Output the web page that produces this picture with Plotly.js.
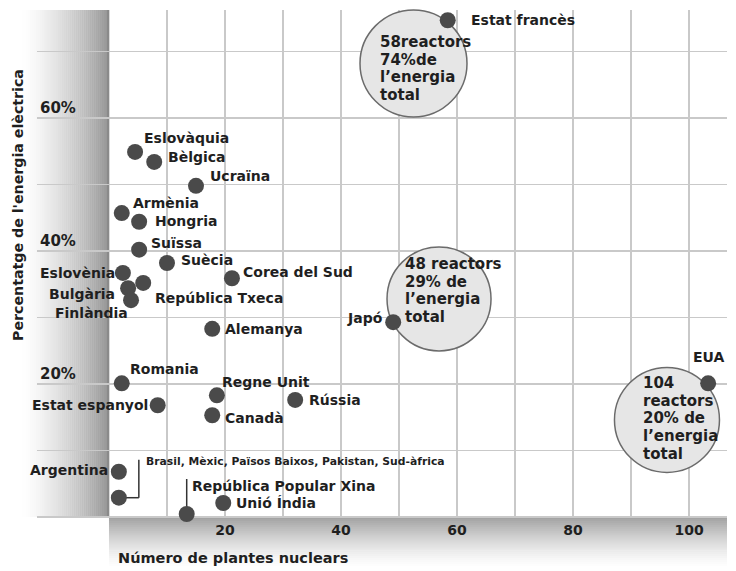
<!DOCTYPE html>
<html><head><meta charset="utf-8">
<script src="https://cdn.plot.ly/plotly-3.0.1.min.js"></script>
<style>html,body{margin:0;padding:0;background:#fff}#chart{width:736px;height:571px}</style>
</head><body><div id="chart"></div>
<script>
// ---- data ----
const countries = ['Estat francès','Eslovàquia','Bèlgica','Ucraïna','Armènia','Hongria','Suïssa','Suècia','Eslovènia','Corea del Sud','Bulgària','Finlàndia','República Txeca','Alemanya','Japó','Romania','Regne Unit','Rússia','Estat espanyol','Canadà','Argentina','Brasil, Mèxic, Països Baixos, Pakistan, Sud-àfrica','República Popular Xina','Unió Índia','EUA'];
const plants = [58.4, 4.5, 7.8, 15.0, 2.2, 5.2, 5.2, 10.0, 2.4, 21.2, 3.3, 3.8, 5.9, 17.8, 49.0, 2.2, 18.6, 32.1, 8.4, 17.8, 1.7, 1.7, 13.4, 19.7, 103.3];
const share = [74.7, 54.9, 53.4, 49.8, 45.7, 44.4, 40.2, 38.2, 36.7, 35.9, 34.4, 32.6, 35.2, 28.3, 29.3, 20.1, 18.3, 17.6, 16.8, 15.3, 6.8, 2.9, 0.45, 2.1, 20.1];
const bubbleText = [['58reactors','74%de','l’energia','total'],['48 reactors','29% de','l’energia','total'],['104','reactors','20% de','l’energia','total']];
const bubbleX = [52.5, 56.9, 96.2];
const bubbleY = [68.2, 32.8, 14.6];
const xTicks = [20, 40, 60, 80, 100];
const xMinor = [10, 30, 50, 70, 90];
const yTicks = [20, 40, 60];
const yTickText = ['20%', '40%', '60%'];
const yMinor = [10, 30, 50, 70];
const xTitle = 'Número de plantes nuclears';
const yTitle = "Percentatge de l'energia elèctrica";

// ---- layout helpers (placement only) ----
const W = 736, H = 571, M = {l:37, r:9, t:10, b:54};
const XR = [-12.41, 106.55], YR = [0, 76.24];
const pw = W - M.l - M.r, ph = H - M.t - M.b;
const pxToPaperX = p => (p - M.l) / pw;
const pxToPaperY = p => (H - M.b - p) / ph;
const dataToPaperX = v => (v - XR[0]) / (XR[1] - XR[0]);

const FONT = 'DejaVu Sans';
const INK = '#1f1f1f';

// label placement: [xanchor, xshift, yshift, size]
const labelPos = [
 ['left',21,0,14],['left',7,14,14],['left',12,5,14],['left',12,10,14],['left',9,10,14],
 ['left',14,1,14],['left',10,7,14],['left',12,3,14],['right',-6,0,14],['left',9,6,14],
 ['right',-11,-6,14],['right',-1,-13,14],['left',10,-15,14],['left',11,0,14],['right',-8,4,14],
 ['left',6,14,14],['left',3,13,14],['left',12,0,14],['right',-8,0,14],['left',11,-3,14],
 ['right',-9,2,14],['left',25,36,10.8],['left',3,28,14],['left',11,0,14],['right',19,26,14]
];
const bubbleSizes = [107, 104, 105];
const bubbleTextPos = [[-36,21.5],[-36,35],[-26,37]];

const shapes = [];
// left gradient band
const gx0 = 20, gx1 = 109, nL = 45;
for (let i = 0; i < nL; i++) {
  const a = gx0 + (gx1 - gx0) * i / nL, b = gx0 + (gx1 - gx0) * (i + 1) / nL;
  const t = (i + 0.5) / nL;
  const g = Math.round(255 - 108 * Math.pow(t, 1.5));
  shapes.push({type:'rect', layer:'below', xref:'paper', yref:'paper',
    x0: pxToPaperX(a), x1: pxToPaperX(b) + 0.0005, y0: 0, y1: 1,
    line:{width:0}, fillcolor:`rgb(${g},${g},${g})`});
}
shapes.push({type:'rect', layer:'below', xref:'paper', yref:'paper',
  x0: pxToPaperX(107), x1: dataToPaperX(0), y0: 0, y1: 1, line:{width:0}, fillcolor:'#8a8a8a'});
// bottom gradient band
const gy0 = 517, gy1 = 568, nB = 26;
for (let i = 0; i < nB; i++) {
  const a = gy0 + (gy1 - gy0) * i / nB, b = gy0 + (gy1 - gy0) * (i + 1) / nB;
  const t = (i + 0.5) / nB;
  const g = Math.round(255 - 95 * Math.pow(1 - t, 1.4));
  shapes.push({type:'rect', layer:'below', xref:'paper', yref:'paper',
    x0: dataToPaperX(0), x1: 1, y0: pxToPaperY(b) - 0.001, y1: pxToPaperY(a),
    line:{width:0}, fillcolor:`rgb(${g},${g},${g})`});
}
// leader lines
const iBr = 21, iXi = 22;
const lead = {color:'#333333', width:1.5};
shapes.push({type:'line', layer:'between', xref:'x', yref:'y', xsizemode:'pixel', ysizemode:'pixel',
  xanchor: plants[iBr], yanchor: share[iBr], x0:0, x1:20, y0:0, y1:0, line:lead});
shapes.push({type:'line', layer:'between', xref:'x', yref:'y', xsizemode:'pixel', ysizemode:'pixel',
  xanchor: plants[iBr], yanchor: share[iBr], x0:20, x1:20, y0:0, y1:38, line:lead});
shapes.push({type:'line', layer:'between', xref:'x', yref:'y', xsizemode:'pixel', ysizemode:'pixel',
  xanchor: plants[iXi], yanchor: share[iXi], x0:0, x1:0, y0:0, y1:35, line:lead});

const annotations = [];
countries.forEach((c, i) => {
  const p = labelPos[i];
  annotations.push({x: plants[i], y: share[i], xref:'x', yref:'y', text: c, showarrow:false,
    xanchor: p[0], yanchor:'middle', xshift: p[1], yshift: p[2],
    font:{family: FONT, size: p[3], color: INK, weight:'bold'}});
});
bubbleText.forEach((lines, b) => {
  lines.forEach((ln, j) => {
    annotations.push({x: bubbleX[b], y: bubbleY[b], xref:'x', yref:'y', text: ln, showarrow:false,
      xanchor:'left', yanchor:'middle', xshift: bubbleTextPos[b][0], yshift: bubbleTextPos[b][1] - j * 17.7,
      font:{family: FONT, size: 15, color: INK, weight:'bold'}});
  });
});
annotations.push({xref:'paper', yref:'paper', x: pxToPaperX(116), y: pxToPaperY(558), text: xTitle,
  showarrow:false, xanchor:'left', yanchor:'middle', font:{family: FONT, size:14.5, color: INK, weight:'bold'}});
annotations.push({xref:'paper', yref:'paper', x: pxToPaperX(18), y: pxToPaperY(205), text: yTitle,
  showarrow:false, textangle:-90, xanchor:'center', yanchor:'middle', font:{family: FONT, size:14.2, color: INK, weight:'bold'}});

const traces = [
  {type:'scatter', mode:'markers', x: bubbleX, y: bubbleY, cliponaxis:false, hoverinfo:'skip',
   marker:{size: bubbleSizes, color:'#e6e6e6', line:{color:'#6b6b6b', width:1.5}, opacity:1}},
  {type:'scatter', mode:'markers', x: plants, y: share, text: countries, cliponaxis:false,
   marker:{size:16, color:'#4a4a4a', line:{width:0}}}
];

const grid = '#c9c9c9';
const layout = {
  width: W, height: H, margin: M, paper_bgcolor:'#ffffff', plot_bgcolor:'rgba(0,0,0,0)',
  showlegend:false, font:{family: FONT, color: INK},
  xaxis:{range: XR, tickmode:'array', tickvals: xTicks, ticktext: xTicks.map(String),
    showgrid:true, gridcolor: grid, gridwidth:1.5, zeroline:false, showline:false, ticks:'',
    ticklabelstandoff: 3,
    minor:{tickmode:'array', tickvals: xMinor, showgrid:true, gridcolor: grid, gridwidth:1.5, ticks:''},
    tickfont:{family: FONT, size:14, color: INK, weight:'bold'}, fixedrange:true},
  yaxis:{range: YR, tickmode:'array', tickvals: yTicks, ticktext: yTickText, ticklabelposition:'inside top',
    showgrid:true, gridcolor: grid, gridwidth:1.5, zeroline:true, zerolinecolor: grid, zerolinewidth:1.5,
    showline:false, ticks:'',
    minor:{tickmode:'array', tickvals: yMinor, showgrid:true, gridcolor: grid, gridwidth:1.5, ticks:''},
    tickfont:{family: FONT, size:15, color: INK, weight:'bold'}, fixedrange:true},
  shapes: shapes, annotations: annotations
};
Plotly.newPlot('chart', traces, layout, {displayModeBar:false, staticPlot:true});
</script></body></html>
